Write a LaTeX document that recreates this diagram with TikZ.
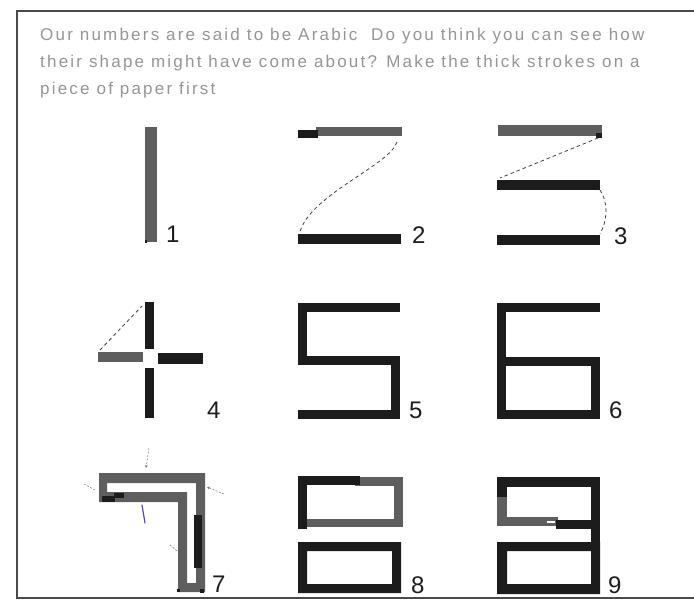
\documentclass[tikz,border=0pt]{standalone}
\usepackage{fontspec}
\usetikzlibrary{arrows.meta}
\newfontfamily\txtfont[LetterSpace=13]{Liberation Sans}
\newfontfamily\numfont{Liberation Sans}
\definecolor{blk}{HTML}{1C1C1C}
\definecolor{gry}{HTML}{5E5E5E}
\definecolor{txtc}{HTML}{959595}
\definecolor{framec}{HTML}{4A4A4A}
\tikzset{
  blkfill/.style={fill=blk},
  gryfill/.style={fill=gry},
  thickstroke/.style={draw=blk, line width=9pt, line join=miter, line cap=butt},
  dsh/.style={draw=black!75, line width=0.8pt, dash pattern=on 3.5pt off 3pt},
  mark7/.style={draw=black!55, line width=0.5pt, dash pattern=on 2pt off 1.5pt},
  txt/.style={font=\txtfont\fontsize{17}{20}\selectfont, text=txtc, anchor=base west, inner sep=0pt},
  lbl/.style={font=\numfont\fontsize{24}{24}\selectfont, text=blk, anchor=base west, inner sep=0pt},
  frame/.style={draw=framec, line width=1.1pt}
}
\begin{document}
\begin{tikzpicture}[x=1pt,y=-1pt]
\useasboundingbox (0,0) rectangle (694,600);
% frame
\draw[frame] (694,11) -- (17,11) -- (17,598) -- (694,598);
% text
\node[txt] (t1) at (40,40) {Our numbers are said to be Arabic\hspace{0.4em} Do you think you can see how};
\node[txt] (t2) at (40,67) {their shape might have come about? Make the thick strokes on a};
\node[txt] (t3) at (40,94) {piece of paper first};

% ---- 1
\fill[gryfill] (145,127) rectangle (157,242);
\fill[blkfill] (145,240) rectangle (147,243);
\node[lbl] (l1) at (166,242) {1};

% ---- 2
\fill[gryfill] (316,127) rectangle (402,136);
\fill[blkfill] (298,130) rectangle (318,138);
\fill[blkfill] (298,234) rectangle (401,244);
\coordinate (c2a) at (397,142);
\coordinate (c2b) at (300,232);
\draw[dsh] (c2a) .. controls (390,165) and (310,195) .. (c2b);
\node[lbl] (l2) at (412,243) {2};

% ---- 3
\fill[gryfill] (498,125) rectangle (602,136);
\fill[blkfill] (596,133) rectangle (602,138);
\fill[blkfill] (497,180) rectangle (600,190);
\fill[blkfill] (497,235) rectangle (600,245);
\coordinate (c3a) at (598,138);
\coordinate (c3b) at (500,178);
\coordinate (c3c) at (600,190);
\coordinate (c3d) at (600,234);
\draw[dsh] (c3a) -- (c3b);
\draw[dsh] (c3c) .. controls (609,204) and (607,221) .. (c3d);
\node[lbl] (l3) at (614,244) {3};

% ---- 4
\fill[blkfill] (145,302) rectangle (154,349);
\fill[blkfill] (145,368) rectangle (154,418);
\fill[gryfill] (98,352) rectangle (143,362);
\fill[blkfill] (158,353) rectangle (203,364);
\coordinate (c4a) at (100,350);
\coordinate (c4b) at (142,306);
\draw[dsh] (c4a) -- (c4b);
\node[lbl] (l4) at (207,418) {4};

% ---- 5
\draw[thickstroke] (400,307.5) -- (302.5,307.5) -- (302.5,360.5) -- (395.5,360.5) -- (395.5,414) -- (298,414);
\node[lbl] (l5) at (409,418) {5};

% ---- 6
\draw[thickstroke] (600,307.5) -- (501.5,307.5) -- (501.5,414) -- (595.5,414) -- (595.5,361) -- (501.5,361);
\node[lbl] (l6) at (609,418) {6};

% ---- 7
\fill[gryfill, even odd rule]
  (99,473) -- (205,473) -- (205,592) -- (178,592) -- (178,502) -- (99,502) -- cycle
  (107,483) -- (196,483) -- (196,583) -- (187,583) -- (187,492) -- (107,492) -- cycle;
\fill[blkfill] (194,515) rectangle (202,568);
\fill[blkfill] (102,496) rectangle (115,502);
\fill[blkfill] (114,493) rectangle (124,498);
\fill[blkfill] (177,589) rectangle (180,592);
\fill[blkfill] (200,589) rectangle (204,593);
\draw[mark7, -{Stealth[length=3pt,width=2.5pt]}] (149,448) -- (146,468);
\draw[mark7] (84,484) -- (95,490);
\draw[mark7, -{Stealth[length=3pt,width=2.5pt]}] (224,494) -- (207,487);
\draw[draw=blue!60!black!70, line width=1.2pt, line cap=round] (142,505) -- (145,523);
\draw[mark7] (170,545) -- (177,551);
\node[lbl] (l7) at (212,592) {7};

% ---- 8
\fill[gryfill] (355,477) rectangle (403,486);
\fill[gryfill] (394,477) rectangle (403,527);
\fill[gryfill] (306,519) rectangle (403,527);
\fill[blkfill] (298,476) rectangle (360,485);
\fill[blkfill] (298,476) rectangle (307,529);
\fill[blkfill, even odd rule] (298,542) rectangle (401,593) (307,551) rectangle (392,584);
\node[lbl] (l8) at (411,593) {8};

% ---- 9
\fill[blkfill] (497,477) rectangle (600,487);
\fill[blkfill] (497,477) rectangle (507,498);
\fill[gryfill] (497,497) rectangle (507,526);
\fill[gryfill] (497,517) rectangle (558,526);
\fill[blkfill] (556,520) rectangle (600,529);
\fill[white] (547,521) rectangle (555,523);
\fill[blkfill] (591,477) rectangle (600,594);
\fill[blkfill, even odd rule] (497,542) rectangle (600,594) (507,551) rectangle (591,584);
\node[lbl] (l9) at (608,593) {9};
\end{tikzpicture}
\end{document}
